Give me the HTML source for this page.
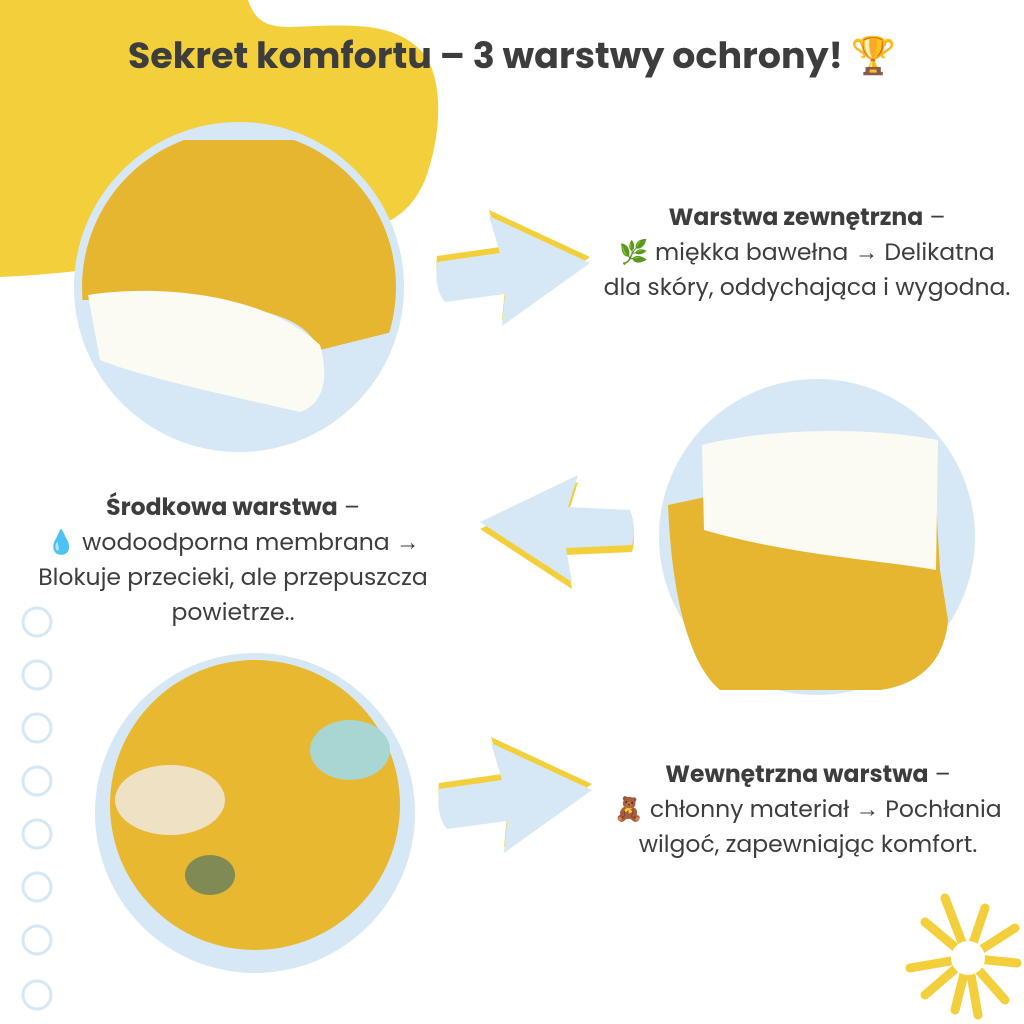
<!DOCTYPE html>
<html><head><meta charset="utf-8"><style>
body{margin:0;width:1024px;height:1024px;background:#fff;overflow:hidden;position:relative;font-family:"Poppins","Liberation Sans","DejaVu Sans",sans-serif;color:#3d3d3d}
.t{position:absolute;text-align:center;font-size:23.5px;line-height:35px;white-space:nowrap}
b{font-weight:700}
</style></head><body>
<svg width="1024" height="1024" style="position:absolute;left:0;top:0">
<path d="M0,0 L248,0 C255,20 265,27 290,27 C350,25 395,20 425,55 C445,85 440,140 425,180 C410,215 385,228 350,232 C260,238 150,270 0,277 Z" fill="#f3cf3c"/>
<circle cx="239" cy="287" r="165" fill="#d6e8f6"/>
<clipPath id="c1"><circle cx="239" cy="287" r="157"/></clipPath>
<g clip-path="url(#c1)">
<path d="M80,140 L400,140 L400,330 L320,350 C300,310 250,300 80,300Z" fill="#e7b630"/>
<path d="M88,295 C150,285 260,290 320,345 C330,380 322,405 300,412 C250,400 150,380 100,360Z" fill="#fbfaf3"/>
</g>
<circle cx="817" cy="537" r="158" fill="#d6e8f6"/>
<path d="M668,505 L738,490 L935,485 L940,570 L948,620 C945,660 920,685 880,690 L720,690 C690,665 672,600 668,505Z" fill="#e7b630"/>
<path d="M702,445 C760,430 860,425 938,440 L936,570 C880,560 790,555 704,530 Z" fill="#fbfaf3"/>
<circle cx="255" cy="813" r="160" fill="#d6e8f6"/>
<circle cx="255" cy="805" r="145" fill="#e8b831"/>
<ellipse cx="170" cy="800" rx="55" ry="35" fill="#eee1c4"/>
<ellipse cx="350" cy="750" rx="40" ry="30" fill="#a8d6d2"/>
<ellipse cx="210" cy="875" rx="25" ry="20" fill="#7f8a55"/>
<defs>
<path id="ar" d="M437,262 L500,253 L489,216 L590,263 L502,326 L505,294 L445,302 Q434,290 437,262 Z"/>
<path id="al" d="M480,522 L578,475 L568,507 L630,510 Q637,528 632,545 L566,548 L572,582 Z"/>
</defs>
<use href="#ar" fill="#f3cf3c" transform="translate(0,-6)"/>
<use href="#ar" fill="#d6e8f6"/>
<use href="#al" fill="#f3cf3c" transform="translate(0,7)"/>
<use href="#al" fill="#d6e8f6"/>
<g transform="translate(2,527)">
<use href="#ar" fill="#f3cf3c" transform="translate(0,-6)"/>
<use href="#ar" fill="#d6e8f6"/>
</g>
<g fill="none" stroke="#d6e8f6" stroke-width="3">
<circle cx="37" cy="622" r="14"/><circle cx="37" cy="675" r="14"/><circle cx="37" cy="728" r="14"/><circle cx="37" cy="781" r="14"/><circle cx="37" cy="834" r="14"/><circle cx="37" cy="887" r="14"/><circle cx="37" cy="940" r="14"/><circle cx="37" cy="995" r="14"/>
</g>
<g stroke="#f3cf3c" stroke-width="9" stroke-linecap="round">
<line x1="968" y1="958" x2="945" y2="898"/><line x1="968" y1="958" x2="985" y2="908"/><line x1="968" y1="958" x2="1015" y2="928"/><line x1="968" y1="958" x2="1017" y2="963"/><line x1="968" y1="958" x2="1005" y2="1000"/><line x1="968" y1="958" x2="978" y2="1015"/><line x1="968" y1="958" x2="955" y2="1010"/><line x1="968" y1="958" x2="925" y2="995"/><line x1="968" y1="958" x2="910" y2="968"/><line x1="968" y1="958" x2="925" y2="922"/>
</g>
<circle cx="968" cy="958" r="17" fill="#fff"/>
</svg>
<div class="t" style="left:0;width:1024px;top:33px;font-size:36.5px;font-weight:700;line-height:46px">Sekret komfortu – 3 warstwy ochrony! 🏆</div>
<div class="t" style="left:580px;width:454px;top:200px"><b>Warstwa zewnętrzna</b> –<br>🌿 miękka bawełna → Delikatna<br>dla skóry, oddychająca i wygodna.</div>
<div class="t" style="left:8px;width:450px;top:490px"><b>Środkowa warstwa</b> –<br>💧 wodoodporna membrana →<br>Blokuje przecieki, ale przepuszcza<br>powietrze..</div>
<div class="t" style="left:585px;width:446px;top:757px"><b>Wewnętrzna warstwa</b> –<br>🧸 chłonny materiał → Pochłania<br>wilgoć, zapewniając komfort.</div>
</body></html>
